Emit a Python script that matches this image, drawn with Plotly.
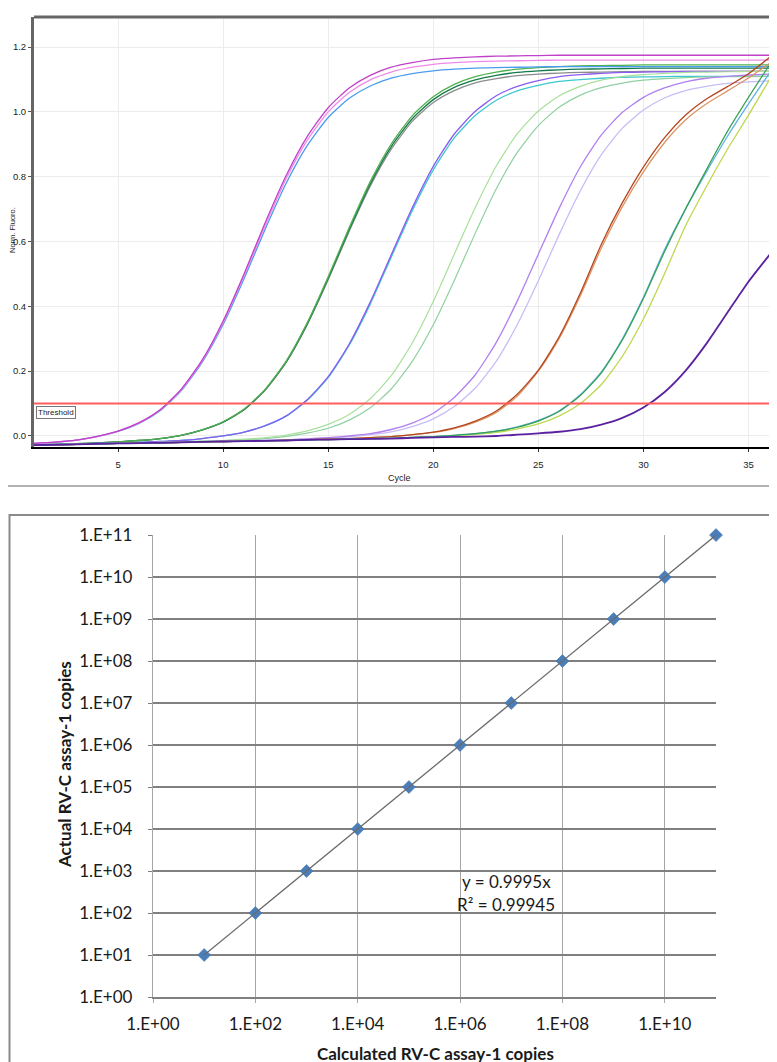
import plotly.graph_objects as go

W, H = 777, 1062

# ---------------- top panel data: amplification curves ----------------
cycles = list(range(1, 37))
threshold = 0.1

a_blue = [-0.023, -0.019, -0.013, -0.002, 0.014, 0.039, 0.078, 0.139, 0.227, 0.344, 0.486, 0.638,
          0.780, 0.896, 0.983, 1.042, 1.080, 1.104, 1.118, 1.127, 1.132, 1.135, 1.137, 1.138,
          1.139, 1.140, 1.140, 1.140, 1.140, 1.140, 1.140, 1.140, 1.140, 1.140, 1.140, 1.140]
a_magenta = [-0.023, -0.019, -0.013, -0.001, 0.015, 0.041, 0.081, 0.144, 0.234, 0.355, 0.501, 0.658,
             0.804, 0.924, 1.013, 1.074, 1.113, 1.138, 1.152, 1.162, 1.167, 1.170, 1.172, 1.173,
             1.174, 1.175, 1.175, 1.175, 1.175, 1.175, 1.175, 1.175, 1.175, 1.175, 1.175, 1.175]
a_pink = [-0.023, -0.019, -0.013, -0.002, 0.015, 0.040, 0.080, 0.142, 0.231, 0.350, 0.495, 0.649,
          0.794, 0.912, 1.000, 1.060, 1.099, 1.123, 1.138, 1.147, 1.152, 1.155, 1.157, 1.158,
          1.159, 1.160, 1.160, 1.160, 1.160, 1.160, 1.160, 1.160, 1.160, 1.160, 1.160, 1.160]
b_green = [-0.027, -0.026, -0.024, -0.021, -0.018, -0.014, -0.008, 0.002, 0.019, 0.044, 0.083, 0.144,
           0.231, 0.349, 0.491, 0.643, 0.785, 0.901, 0.988, 1.047, 1.085, 1.109, 1.123, 1.132,
           1.137, 1.140, 1.142, 1.143, 1.144, 1.145, 1.145, 1.145, 1.145, 1.145, 1.145, 1.145]
b_darkgreen = [-0.027, -0.026, -0.024, -0.021, -0.018, -0.014, -0.008, 0.002, 0.019, 0.043, 0.082, 0.143,
               0.229, 0.346, 0.487, 0.637, 0.778, 0.893, 0.979, 1.038, 1.076, 1.099, 1.113, 1.122,
               1.127, 1.130, 1.132, 1.133, 1.134, 1.135, 1.135, 1.135, 1.135, 1.135, 1.135, 1.135]
b_gray = [-0.027, -0.026, -0.024, -0.021, -0.018, -0.014, -0.008, 0.002, 0.018, 0.043, 0.081, 0.141,
          0.227, 0.343, 0.482, 0.632, 0.771, 0.885, 0.971, 1.029, 1.066, 1.090, 1.103, 1.112,
          1.117, 1.120, 1.122, 1.123, 1.124, 1.125, 1.125, 1.125, 1.125, 1.125, 1.125, 1.125]
c_violet = [-0.028, -0.027, -0.025, -0.023, -0.022, -0.020, -0.017, -0.014, -0.008, 0.000, 0.012, 0.032,
            0.062, 0.112, 0.183, 0.284, 0.413, 0.559, 0.704, 0.832, 0.932, 1.002, 1.050, 1.079,
            1.097, 1.109, 1.115, 1.119, 1.122, 1.123, 1.124, 1.125, 1.125, 1.125, 1.125, 1.125]
c_cyan = [-0.028, -0.027, -0.025, -0.023, -0.022, -0.020, -0.017, -0.014, -0.008, 0.000, 0.012, 0.031,
          0.061, 0.110, 0.180, 0.280, 0.407, 0.552, 0.695, 0.821, 0.920, 0.989, 1.036, 1.065,
          1.082, 1.094, 1.100, 1.104, 1.107, 1.108, 1.109, 1.110, 1.110, 1.110, 1.110, 1.110]
d_lightgreen = [-0.028, -0.027, -0.026, -0.024, -0.023, -0.021, -0.020, -0.019, -0.016, -0.014, -0.010, -0.005,
                0.003, 0.016, 0.036, 0.066, 0.115, 0.186, 0.287, 0.415, 0.561, 0.705, 0.833, 0.933,
                1.003, 1.050, 1.079, 1.098, 1.109, 1.115, 1.119, 1.122, 1.123, 1.124, 1.125, 1.125]
d_palegreen = [-0.028, -0.027, -0.026, -0.024, -0.023, -0.022, -0.020, -0.019, -0.016, -0.014, -0.012, -0.008,
               -0.001, 0.009, 0.024, 0.049, 0.087, 0.145, 0.230, 0.343, 0.480, 0.626, 0.763, 0.875,
               0.958, 1.015, 1.052, 1.075, 1.089, 1.098, 1.103, 1.106, 1.108, 1.109, 1.109, 1.110]
e_purple = [-0.028, -0.027, -0.026, -0.024, -0.023, -0.022, -0.021, -0.020, -0.018, -0.016, -0.015, -0.014,
            -0.012, -0.009, -0.005, 0.000, 0.007, 0.020, 0.040, 0.070, 0.119, 0.189, 0.289, 0.417,
            0.561, 0.704, 0.831, 0.929, 0.999, 1.045, 1.074, 1.093, 1.104, 1.110, 1.114, 1.117]
e_lavender = [-0.028, -0.027, -0.026, -0.024, -0.023, -0.022, -0.021, -0.020, -0.018, -0.017, -0.015, -0.014,
              -0.012, -0.009, -0.007, -0.003, 0.004, 0.013, 0.029, 0.053, 0.091, 0.148, 0.231, 0.344,
              0.479, 0.623, 0.757, 0.868, 0.950, 1.006, 1.043, 1.066, 1.079, 1.088, 1.093, 1.096]
f_brown = [-0.028, -0.027, -0.026, -0.024, -0.023, -0.022, -0.021, -0.020, -0.018, -0.017, -0.016, -0.015,
           -0.013, -0.011, -0.010, -0.008, -0.005, -0.002, 0.004, 0.012, 0.025, 0.046, 0.077, 0.129,
           0.203, 0.307, 0.441, 0.592, 0.720, 0.830, 0.920, 0.990, 1.040, 1.078, 1.118, 1.168]
f_tan = [-0.028, -0.027, -0.026, -0.024, -0.023, -0.022, -0.021, -0.020, -0.018, -0.017, -0.016, -0.015,
         -0.013, -0.011, -0.010, -0.008, -0.005, -0.002, 0.004, 0.011, 0.023, 0.043, 0.073, 0.123,
         0.200, 0.302, 0.433, 0.580, 0.708, 0.815, 0.905, 0.975, 1.025, 1.065, 1.105, 1.150]
g_skyblue = [-0.028, -0.027, -0.026, -0.024, -0.023, -0.022, -0.021, -0.020, -0.018, -0.017, -0.016, -0.015,
             -0.014, -0.012, -0.011, -0.010, -0.008, -0.007, -0.004, -0.002, 0.002, 0.007, 0.015, 0.028,
             0.048, 0.078, 0.127, 0.198, 0.300, 0.428, 0.574, 0.700, 0.815, 0.925, 1.025, 1.120]
g_yellowgreen = [-0.028, -0.027, -0.026, -0.024, -0.023, -0.022, -0.021, -0.020, -0.018, -0.017, -0.016, -0.015,
                 -0.014, -0.012, -0.011, -0.010, -0.008, -0.007, -0.004, -0.002, 0.001, 0.005, 0.011, 0.022,
                 0.037, 0.062, 0.100, 0.159, 0.246, 0.361, 0.500, 0.648, 0.770, 0.885, 0.990, 1.100]
g_green = [-0.028, -0.027, -0.026, -0.024, -0.023, -0.022, -0.021, -0.020, -0.018, -0.017, -0.016, -0.015,
           -0.014, -0.012, -0.011, -0.010, -0.008, -0.007, -0.004, -0.002, 0.002, 0.007, 0.015, 0.027,
           0.046, 0.076, 0.125, 0.195, 0.296, 0.424, 0.568, 0.700, 0.822, 0.940, 1.045, 1.145]
h_darkpurple = [-0.028, -0.027, -0.026, -0.024, -0.023, -0.022, -0.021, -0.020, -0.018, -0.017, -0.016, -0.015,
                -0.014, -0.012, -0.011, -0.010, -0.009, -0.008, -0.006, -0.004, -0.003, -0.002, 0.000, 0.004,
                0.008, 0.013, 0.021, 0.035, 0.056, 0.088, 0.135, 0.201, 0.285, 0.381, 0.476, 0.559]

curves = [
    (b_gray, "#8c8c8c", 1.3), (b_darkgreen, "#137a4a", 1.3), (b_green, "#4fb04f", 1.3),
    (a_blue, "#4a9cf0", 1.3), (a_pink, "#f08ae8", 1.3), (a_magenta, "#c040c8", 1.3),
    (c_cyan, "#3cc8d0", 1.3), (c_violet, "#8a5cf0", 1.3),
    (d_palegreen, "#8fd0a0", 1.2), (d_lightgreen, "#a8e09a", 1.2),
    (e_lavender, "#c8bcf8", 1.3), (e_purple, "#b080f0", 1.3),
    (f_tan, "#dc9462", 1.3), (f_brown, "#b4461e", 1.3),
    (g_yellowgreen, "#bcd84e", 1.3), (g_skyblue, "#5eb0e0", 1.3), (g_green, "#35a050", 1.2),
    (h_darkpurple, "#5a22a0", 1.8),
]

# ---------------- bottom panel data: standard curve ----------------
calculated_copies = [1e1, 1e2, 1e3, 1e4, 1e5, 1e6, 1e7, 1e8, 1e9, 1e10, 1e11]
actual_copies = [1e1, 1e2, 1e3, 1e4, 1e5, 1e6, 1e7, 1e8, 1e9, 1e10, 1e11]
trend_slope = 0.9995
r_squared = 0.99945
x_tick_vals = [1e0, 1e2, 1e4, 1e6, 1e8, 1e10]
x_tick_text = ["1.E+00", "1.E+02", "1.E+04", "1.E+06", "1.E+08", "1.E+10"]
y_tick_vals = [1e0, 1e1, 1e2, 1e3, 1e4, 1e5, 1e6, 1e7, 1e8, 1e9, 1e10, 1e11]
y_tick_text = ["1.E+00", "1.E+01", "1.E+02", "1.E+03", "1.E+04", "1.E+05",
               "1.E+06", "1.E+07", "1.E+08", "1.E+09", "1.E+10", "1.E+11"]
top_x_ticks = [5, 10, 15, 20, 25, 30, 35]
top_y_ticks = [0.0, 0.2, 0.4, 0.6, 0.8, 1.0, 1.2]

fig = go.Figure()

for vals, col, w in curves:
    fig.add_trace(go.Scatter(x=cycles, y=vals, mode="lines",
                             line=dict(color=col, width=w, shape="spline", smoothing=0.6),
                             xaxis="x", yaxis="y", showlegend=False, hoverinfo="skip"))

fig.add_trace(go.Scatter(x=[cycles[0], cycles[-1]], y=[threshold, threshold], mode="lines",
                         line=dict(color="#ff5c5c", width=2), xaxis="x", yaxis="y",
                         showlegend=False, hoverinfo="skip"))

fig.add_trace(go.Scatter(x=calculated_copies, y=actual_copies, mode="markers",
                         marker=dict(symbol="diamond", size=10, color="#4a7ebb",
                                     line=dict(color="#3f6fa8", width=0.5)),
                         cliponaxis=False, xaxis="x2", yaxis="y2", showlegend=False))
trend_x = [min(calculated_copies), max(calculated_copies)]
trend_y = [trend_slope * v for v in trend_x]
fig.add_trace(go.Scatter(x=trend_x, y=trend_y, mode="lines",
                         line=dict(color="#6a6a6a", width=1.3), cliponaxis=False,
                         xaxis="x2", yaxis="y2", showlegend=False))

def px(x):
    return x / W

def py(y):
    return 1 - y / H

small_font = dict(family="Liberation Sans, Arial", size=9.5, color="#222222")
xl_font = dict(family="Lato", size=17, color="#1a1a1a")

fig.update_layout(
    width=W, height=H, margin=dict(l=0, r=0, t=0, b=0, pad=0, autoexpand=False),
    paper_bgcolor="white", plot_bgcolor="white", showlegend=False,
    xaxis=dict(domain=[px(26), px(772)], range=[1, 36.5], anchor="y", automargin=False,
               tickvals=top_x_ticks, ticks="outside", ticklen=3, tickcolor="#333",
               showgrid=True, gridcolor="#ececec", gridwidth=1,
               showline=True, linecolor="black", linewidth=2, zeroline=False,
               tickfont=small_font, ticklabelstandoff=5),
    yaxis=dict(domain=[py(439), py(9)], range=[-0.034, 1.293], anchor="x", automargin=False,
               tickvals=top_y_ticks, tickformat=".1f", ticks="outside", ticklen=3,
               tickcolor="#555", showgrid=True, gridcolor="#ececec", gridwidth=1,
               showline=True, linecolor="#666666", linewidth=3, mirror=True,
               zeroline=False, tickfont=small_font, ticklabelstandoff=0),
    xaxis2=dict(type="log", domain=[px(145), px(708)], range=[0, 11], anchor="y2", automargin=False,
                tickvals=x_tick_vals, ticktext=x_tick_text, ticks="outside", ticklen=4,
                tickcolor="#a6a6a6", showgrid=True, gridcolor="#a6a6a6", gridwidth=1.3,
                showline=True, linecolor="#808080", linewidth=1.6, zeroline=False,
                tickfont=xl_font, ticklabelstandoff=7),
    yaxis2=dict(type="log", domain=[py(989), py(527)], range=[0, 11.002], anchor="x2", automargin=False,
                tickvals=y_tick_vals, ticktext=y_tick_text, ticks="outside", ticklen=4,
                tickcolor="#808080", showgrid=True, gridcolor="#808080", gridwidth=1.6,
                showline=True, linecolor="#a6a6a6", linewidth=1.3, zeroline=False,
                tickfont=xl_font, ticklabelstandoff=12),
)

fig.update_layout(shapes=[
    dict(type="line", xref="x domain", yref="y domain", x0=0, x1=1, y0=1, y1=1,
         line=dict(color="#666666", width=3)),
    dict(type="line", xref="paper", yref="paper", x0=0, x1=px(776), y0=py(478), y1=py(478),
         line=dict(color="#9a9a9a", width=1.5)),
    dict(type="line", xref="paper", yref="paper", x0=px(776), x1=px(776), y0=py(478), y1=1,
         line=dict(color="#9a9a9a", width=1.5)),
    dict(type="rect", xref="paper", yref="paper", x0=px(1.5), x1=px(775.5), y0=py(1060), y1=py(507),
         line=dict(color="#8a8a8a", width=2)),
])

def note(text, x, y, font, angle=0, xanchor="center", **kw):
    return dict(text=text, xref="paper", yref="paper", x=px(x), y=py(y), textangle=angle,
                xanchor=xanchor, yanchor="middle", showarrow=False, font=font, **kw)

arial8 = dict(family="Liberation Sans, Arial", size=8, color="#222")
lato17 = dict(family="Lato", size=17, color="#1a1a1a")

fig.update_layout(annotations=[
    note("Norm. Fluoro.", 5, 222, dict(family="Liberation Sans, Arial", size=7.5, color="#222"),
         angle=-90, borderpad=0),
    note("Cycle", 392, 470, dict(family="Liberation Sans, Arial", size=9, color="#222")),
    note("Threshold", 28, 404, arial8, xanchor="left", bgcolor="white",
         bordercolor="#777", borderwidth=1, borderpad=1),
    note("y = %sx" % trend_slope, 498, 873, lato17),
    note("R² = %s" % r_squared, 498, 896, lato17),
    note("<b>Actual RV-C assay-1 copies</b>", 56, 757, lato17, angle=-90),
    note("<b>Calculated RV-C assay-1 copies</b>", 427, 1045, lato17),
])

fig.write_html("out.html")
